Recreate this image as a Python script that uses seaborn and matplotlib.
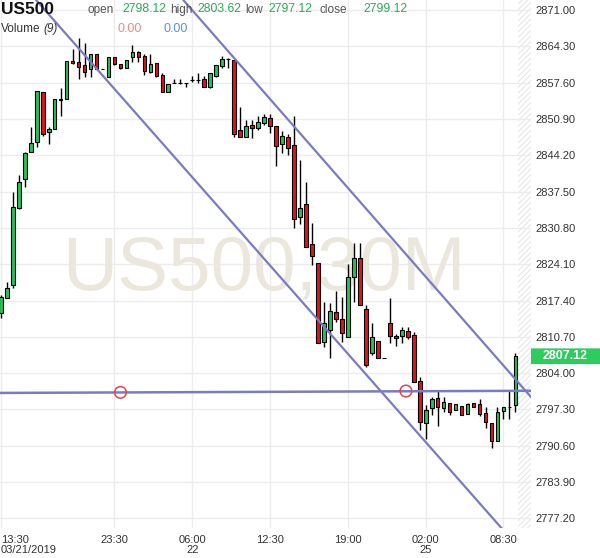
import numpy as np
import pandas as pd
import matplotlib
matplotlib.use("Agg")
import matplotlib.pyplot as plt
import seaborn as sns
from matplotlib.patches import FancyBboxPatch
from matplotlib.transforms import blended_transform_factory

# ---------------- data ----------------
opens = [2815.10, 2817.87, 2820.27, 2834.47, 2839.82, 2844.81, 2846.65, 2855.88, 2848.50, 2849.05,
         2854.40, 2854.58, 2861.60, 2861.41, 2860.86, 2860.12, 2862.89, 2860.12, 2858.64, 2862.33,
         2861.04, 2860.30, 2862.33, 2863.26, 2862.52, 2859.57, 2861.23, 2859.01, 2855.88, 2857.54,
         2857.54, 2857.54, 2858.09, 2858.09, 2858.27, 2856.80, 2858.83, 2860.67, 2861.96, 2861.78,
         2848.87, 2847.57, 2849.79, 2849.23, 2850.16, 2851.08, 2849.60, 2846.28, 2847.57, 2846.10,
         2832.81, 2835.21, 2827.83, 2824.33, 2809.75, 2811.96, 2815.29, 2813.99, 2810.67, 2821.74,
         2825.25, 2815.84, 2807.72, 2809.94, 2806.80, 2813.26, 2810.86, 2810.86, 2811.78, 2811.04,
         2802.56, 2794.81, 2797.57, 2799.42, 2797.57, 2798.50, 2797.21, 2797.94, 2796.47, 2798.50,
         2798.31, 2796.65, 2794.81, 2791.49, 2797.02, 2797.76, 2798.12]
highs = [2818.42, 2820.82, 2837.43, 2840.56, 2844.81, 2849.42, 2856.06, 2855.88, 2849.42, 2854.58,
         2856.61, 2861.60, 2863.81, 2865.84, 2864.92, 2862.89, 2862.89, 2860.20, 2862.33, 2862.33,
         2861.04, 2861.78, 2864.55, 2863.44, 2862.89, 2862.89, 2861.23, 2859.38, 2857.35, 2858.27,
         2858.27, 2857.60, 2858.83, 2859.38, 2858.83, 2859.38, 2860.86, 2862.52, 2862.15, 2861.78,
         2853.11, 2850.71, 2850.71, 2851.45, 2851.82, 2851.82, 2849.60, 2848.68, 2848.13, 2851.45,
         2843.33, 2839.27, 2831.71, 2824.33, 2817.13, 2816.95, 2819.16, 2818.05, 2824.14, 2828.02,
         2828.02, 2816.58, 2813.26, 2809.94, 2806.88, 2817.87, 2811.23, 2812.52, 2812.52, 2811.60,
         2803.29, 2798.13, 2799.60, 2800.71, 2799.60, 2798.50, 2798.31, 2797.94, 2798.50, 2798.50,
         2799.23, 2797.76, 2794.81, 2797.76, 2797.76, 2800.71, 2807.72]
lows = [2814.18, 2817.87, 2819.71, 2834.29, 2838.35, 2844.81, 2845.73, 2847.76, 2846.28, 2849.05,
        2851.45, 2854.58, 2861.04, 2858.27, 2858.64, 2858.64, 2860.12, 2860.05, 2858.64, 2860.86,
        2860.12, 2860.30, 2861.41, 2861.41, 2859.01, 2859.38, 2858.64, 2855.88, 2855.88, 2857.54,
        2857.35, 2856.80, 2857.72, 2857.54, 2856.80, 2856.61, 2858.64, 2860.30, 2860.30, 2847.57,
        2847.57, 2847.57, 2847.39, 2848.87, 2849.79, 2848.31, 2842.22, 2844.62, 2844.25, 2830.78,
        2831.52, 2827.28, 2823.96, 2809.57, 2808.83, 2806.80, 2813.44, 2809.75, 2810.67, 2817.13,
        2816.58, 2805.14, 2807.35, 2806.80, 2806.72, 2809.57, 2809.01, 2809.57, 2810.30, 2802.37,
        2793.52, 2791.85, 2796.28, 2794.25, 2796.84, 2796.28, 2797.21, 2796.28, 2796.47, 2797.76,
        2796.10, 2793.88, 2790.19, 2791.49, 2795.54, 2795.54, 2796.84]
closes = [2818.05, 2819.71, 2834.66, 2839.27, 2844.62, 2846.47, 2856.06, 2848.13, 2849.05, 2854.58,
          2854.58, 2861.60, 2861.23, 2860.49, 2859.57, 2862.89, 2860.12, 2860.12, 2862.33, 2861.04,
          2860.30, 2861.78, 2863.26, 2862.33, 2859.75, 2861.04, 2858.83, 2855.88, 2857.35, 2857.60,
          2857.60, 2857.50, 2858.15, 2858.15, 2856.80, 2859.38, 2860.86, 2861.96, 2862.00, 2848.13,
          2847.57, 2849.60, 2849.23, 2850.34, 2851.26, 2849.60, 2845.91, 2847.76, 2845.54, 2832.44,
          2834.47, 2827.28, 2825.62, 2809.57, 2813.26, 2815.47, 2813.99, 2811.41, 2821.74, 2825.25,
          2816.58, 2805.51, 2810.67, 2806.80, 2806.80, 2810.86, 2810.49, 2811.96, 2810.67, 2802.37,
          2794.99, 2797.21, 2799.23, 2797.76, 2798.68, 2796.84, 2798.31, 2796.28, 2798.31, 2797.76,
          2796.47, 2794.99, 2791.49, 2796.84, 2797.76, 2797.80, 2807.12]

time_tick_pos = [0, 19, 32, 45, 58, 71, 84]
time_tick_labels = ["13:30\n03/21/2019", "23:30", "06:00\n22", "12:30", "19:00", "02:00\n25", "08:30"]
price_ticks = [2777.20, 2783.90, 2790.60, 2797.30, 2804.00, 2810.70, 2817.40, 2824.10,
               2830.80, 2837.50, 2844.20, 2850.90, 2857.60, 2864.30, 2871.00]

lower_trend_x = [5.9, 83.95]
lower_trend_y = [2872.85, 2775.06]
upper_trend_x = [30.5, 88.6]
upper_trend_y = [2872.85, 2799.60]
hline_x = [-0.2, 88.7]
hline_y = [2800.35, 2800.75]
anchor_x = [20.0, 67.7]
anchor_y = [2800.45, 2800.70]

last_price = 2807.12
symbol = "US500"
ohlc_labels = ["open", "high", "low", "close"]
ohlc_values = ["2798.12", "2803.62", "2797.12", "2799.12"]
volume_values = ["0.00", "0.00"]
watermark = "US500,30M"

# ---------------- style ----------------
sns.set_theme(style="white")
plt.rcParams["font.family"] = ["Liberation Sans", "DejaVu Sans"]
plt.rcParams["hatch.linewidth"] = 0.6

W, H = 600, 558
fig = plt.figure(figsize=(W / 100, H / 100), dpi=100)
ax = fig.add_axes([0, 30 / H, 531 / W, 528 / H])

n = len(opens)
idx = np.arange(n)
df = pd.DataFrame({"i": idx, "o": opens, "h": highs, "l": lows, "c": closes})
up_col, dn_col = "#22c25c", "#e8101c"
df["col"] = np.where(df["c"] >= df["o"], up_col, dn_col)

xmin, xmax = -0.13, 88.6
ymin, ymax = 2775.43, 2872.85

# future (hatched) area
ax.axvspan(n - 0.5, xmax, facecolor="white", edgecolor="#e0e0e0", hatch="//////", lw=0, zorder=0.5)

# watermark
ax.text(0.497, 0.451, watermark, transform=ax.transAxes, ha="center", va="baseline",
        fontsize=55, color="#ece7dc", zorder=1)

# wicks and bodies
ax.vlines(df["i"], df["l"], df["h"], color="black", lw=1, zorder=2)
ax.bar(df["i"], (df["c"] - df["o"]).abs(), bottom=np.minimum(df["o"], df["c"]),
       width=0.62, color=df["col"], edgecolor="black", linewidth=0.8, zorder=3)

# trend lines
line_col = "#7b7bc4"
sns.lineplot(x=lower_trend_x, y=lower_trend_y, ax=ax, color=line_col, lw=1.6, zorder=4)
sns.lineplot(x=upper_trend_x, y=upper_trend_y, ax=ax, color=line_col, lw=1.6, zorder=4)
sns.lineplot(x=hline_x, y=hline_y, ax=ax, color=line_col, lw=1.8, zorder=4)
sns.scatterplot(x=anchor_x, y=anchor_y, ax=ax, s=70, color="none", edgecolor="#e8434a",
                linewidth=1.1, zorder=5)

ax.set_xlim(xmin, xmax)
ax.set_ylim(ymin, ymax)
ax.set_xticks(time_tick_pos)
ax.set_xticklabels(time_tick_labels)
ax.set_yticks(price_ticks)
ax.set_yticklabels([f"{v:.2f}" for v in price_ticks])
ax.yaxis.tick_right()
ax.grid(True, color="#ececec", lw=1)
ax.set_axisbelow(True)
for s in ax.spines.values():
    s.set_visible(False)
ax.tick_params(axis="both", length=0, labelsize=8, colors="#333333")
ax.tick_params(axis="y", pad=3)
ax.tick_params(axis="x", pad=5)
for lab in ax.get_xticklabels():
    lab.set_linespacing(0.95)
ax.get_xticklabels()[0].set_ha("left")

# last price box on the price axis
tr = blended_transform_factory(fig.transFigure, ax.transData)
box = FancyBboxPatch((531 / W, last_price - 1.45), 69 / W, 2.9,
                     boxstyle="round,pad=0,rounding_size=0.006", transform=tr,
                     facecolor="#2dcc5e", edgecolor="none", clip_on=False, zorder=6)
fig.patches.append(box)
fig.text(565 / W, 0, f"{last_price:.2f}", transform=tr, ha="center", va="center",
         fontsize=9, fontweight="bold", color="white", zorder=7)
fig.texts[-1].set_y(last_price)

# header
def ftxt(x, y, s, **kw):
    fig.text(x / W, 1 - y / H, s, va="baseline", **kw)

ftxt(1, 14, symbol, fontsize=12.5, fontweight="bold", color="#111111")
label_x = [88, 170, 245, 320]
value_x = [122, 197, 268, 363]
for lx, vx, lab, val in zip(label_x, value_x, ohlc_labels, ohlc_values):
    ftxt(lx, 13, lab, fontsize=8.5, color="#555555")
    ftxt(vx, 12, val, fontsize=8.7, color="#2aac55")
ftxt(1, 32, "Volume", fontsize=8.5, color="#333333")
ftxt(43, 32, "(9)", fontsize=8.5, color="#333333", style="italic")
ftxt(117, 32, volume_values[0], fontsize=9, color="#f08a8a")
ftxt(163, 32, volume_values[1], fontsize=9, color="#5b8ee6")

fig.savefig("out.png", dpi=100)
